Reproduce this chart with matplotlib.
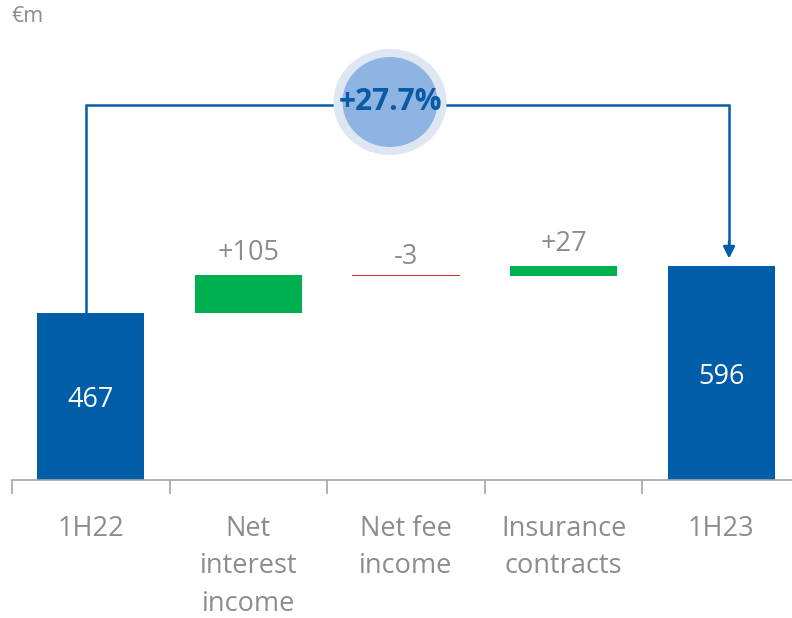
import matplotlib
matplotlib.use("Agg")
import matplotlib.pyplot as plt
from matplotlib.patches import Ellipse

plt.rcParams['font.family'] = ['Open Sans', 'DejaVu Sans']

categories = ["1H22", "Net\ninterest\nincome", "Net fee\nincome", "Insurance\ncontracts", "1H23"]
start_value = 467
deltas = [105, -3, 27]
end_value = 596
delta_labels = ["+105", "-3", "+27"]
growth_label = "+27.7%"

BLUE = "#005ea8"
GREEN = "#00b050"
RED = "#d9262b"
GRAY = "#8c8c8c"
FS = 19.5

W, H = 792, 618
fig = plt.figure(figsize=(W / 100, H / 100), dpi=100)
ax = fig.add_axes([12 / W, 138 / H, 788 / W, 430 / H])
ax.set_xlim(-0.5, 4.5)
ax.set_ylim(0, 1200)

bw = 0.68
# totals
ax.bar(0, start_value, width=bw, color=BLUE)
ax.bar(4, end_value, width=bw, color=BLUE)
ax.text(0, start_value * 0.48, str(start_value), color="white", fontsize=FS,
        ha="center", va="center")
ax.text(4, end_value * 0.48, str(end_value), color="white", fontsize=FS,
        ha="center", va="center")

# deltas
cum = start_value
offsets = [6, 3, 6]
for i, (d, lab, off) in enumerate(zip(deltas, delta_labels, offsets), start=1):
    col = GREEN if d > 0 else RED
    ax.bar(i, d, bottom=cum, width=bw, color=col, linewidth=0)
    top = max(cum, cum + d)
    ax.annotate(lab, (i, top), xytext=(0, off), textcoords="offset points",
                ha="center", va="bottom", color=GRAY, fontsize=FS)
    cum += d

# connector arrow
y_conn = 1046
x0 = 0 - 0.03
x1 = 4 + 0.05
ax.plot([x0, x0, x1, x1], [start_value, y_conn, y_conn, end_value + 60],
        color=BLUE, lw=1.8, solid_joinstyle="miter", clip_on=False, zorder=3)
ax.annotate("", xy=(x1, end_value + 22), xytext=(x1, end_value + 70),
            arrowprops=dict(arrowstyle="-|>,head_length=0.7,head_width=0.35",
                            color=BLUE, lw=1.8, shrinkA=0, shrinkB=0), zorder=3)

# circle badge
cx, cy = 390 / W, 1 - 102 / H
fig.patches.append(Ellipse((cx, cy), 113 / W, 106 / H, transform=fig.transFigure,
                           facecolor="#dee6f2", edgecolor="none", zorder=4))
fig.patches.append(Ellipse((cx, cy), 95 / W, 90 / H, transform=fig.transFigure,
                           facecolor="#8db4e2", edgecolor="none", zorder=5))
fig.text(cx, cy, growth_label, color="#0b5aa5", fontsize=21.5, fontweight="bold",
         ha="center", va="center", zorder=6)

# axes styling
for s in ["top", "right", "left"]:
    ax.spines[s].set_visible(False)
ax.spines["bottom"].set_color("#a6a6a6")
ax.spines["bottom"].set_linewidth(1.2)
ax.set_yticks([])
ax.set_xticks(range(len(categories)))
ax.set_xticklabels(categories, color=GRAY, fontsize=FS, linespacing=1.45, va="top")
ax.tick_params(axis="x", which="major", length=0, pad=25)
ax.set_xticks([i - 0.5 for i in range(len(categories) + 1)], minor=True)
ax.tick_params(axis="x", which="minor", length=10, color="#a6a6a6", width=1.2)

fig.text(12 / W, 1 - 16 / H, "€m", color=GRAY, fontsize=15.5, ha="left", va="center")

fig.savefig("out.png", dpi=100)
